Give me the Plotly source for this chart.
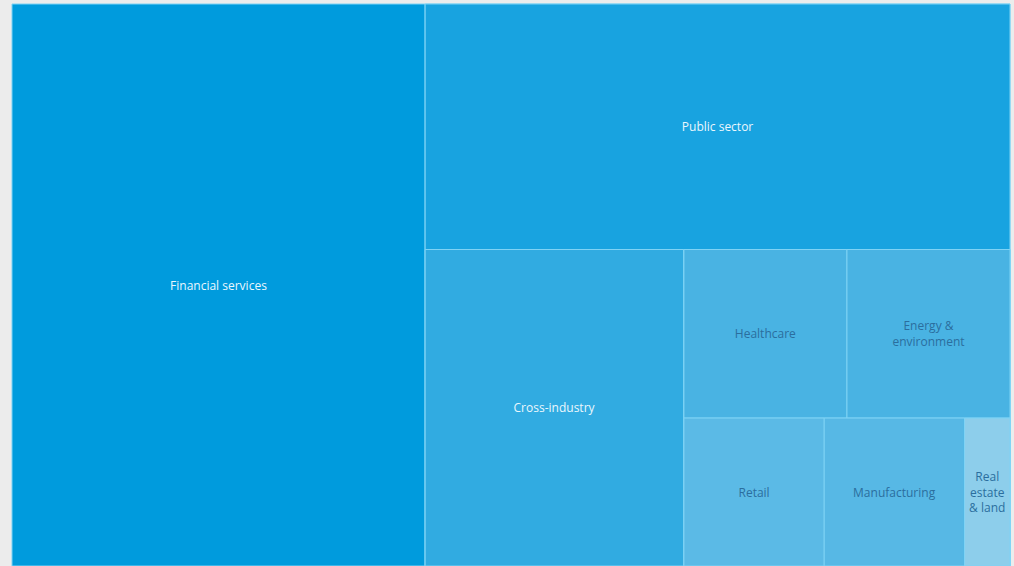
"""
Treemap of sectors, nested groups force the slice/dice layout
"""
import plotly.graph_objects as go

# hierarchy: leaves plus invisible grouping nodes
ids = ['fin', 'g1', 'pub', 'g2', 'cross', 'g3', 'g4', 'health', 'energy',
       'g5', 'retail', 'manu', 'real']
labels = ['Financial services', '', 'Public sector', '', 'Cross-industry', '', '',
          'Healthcare', 'Energy &<br>environment', '', 'Retail', 'Manufacturing',
          'Real<br>estate<br>& land']
parents = ['', '', 'g1', 'g1', 'g2', 'g2', 'g3', 'g4', 'g4', 'g3', 'g5', 'g5', 'g5']
values = [41.4, 0, 25.6, 0, 14.6, 0, 0, 4.9, 4.9, 0, 3.7, 3.7, 1.2]

colors = ['#009BDD', '#18A3E0', '#18A3E0', '#31ABE1', '#31ABE1', '#49B3E3', '#49B3E3',
          '#49B3E3', '#49B3E3', '#5BBAE6', '#5BBAE6', '#57B8E5', '#8DCEEB']
text_colors = ['#EAF7FD', '#EAF7FD', '#EAF7FD', '#EAF7FD', '#EAF7FD', '#2B6E9E', '#2B6E9E',
               '#2B6E9E', '#2B6E9E', '#2B6E9E', '#2B6E9E', '#2B6E9E', '#2B6E9E']

fig = go.Figure(go.Treemap(
    ids=ids,
    labels=labels,
    parents=parents,
    values=values,
    branchvalues='remainder',
    sort=False,
    textinfo='label',
    textposition='middle center',
    textfont=dict(family='Open Sans', size=12, color=text_colors),
    marker=dict(
        colors=colors,
        line=dict(color='#7FD3F5', width=1),
        pad=dict(t=0, l=0, r=0, b=0)
    ),
    tiling=dict(packing='slice-dice', pad=0),
    pathbar=dict(visible=False),
    hoverinfo='label+value'
))

fig.update_layout(
    width=1014,
    height=566,
    margin=dict(l=12, r=4, t=4, b=0),
    paper_bgcolor='#ECECEC',
    showlegend=False
)

# drop the browser's default body margin so the figure sits at the page corner
fig.write_html("out.html", config={'displayModeBar': False},
               post_script="document.body.style.margin='0';")
